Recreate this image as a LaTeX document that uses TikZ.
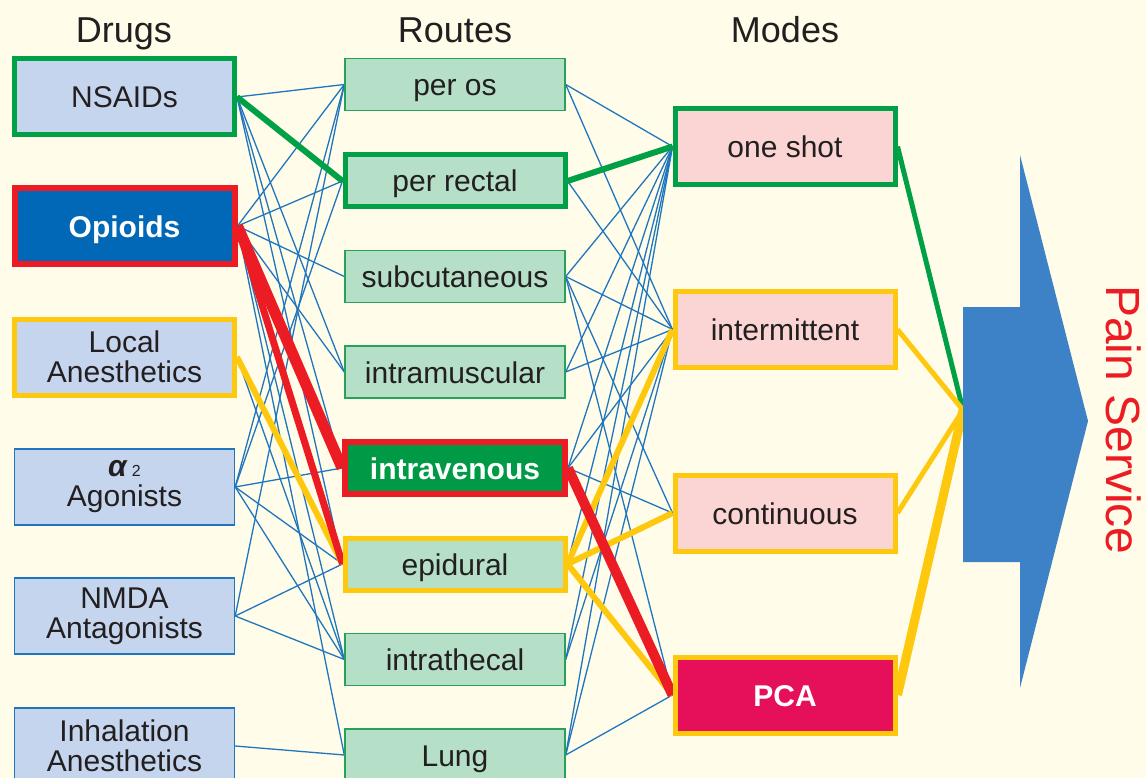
\documentclass[tikz,border=0pt]{standalone}
\usepackage{fontspec}
\setmainfont{Liberation Sans}
\usetikzlibrary{positioning}

\definecolor{paper}{HTML}{FFFCE9}
\definecolor{ink}{HTML}{231F20}
\definecolor{drugfill}{HTML}{C5D5EE}
\definecolor{routefill}{HTML}{B5DFC6}
\definecolor{modefill}{HTML}{FAD5D3}
\definecolor{opioidblue}{HTML}{0068B6}
\definecolor{ivgreen}{HTML}{009A47}
\definecolor{pcared}{HTML}{E6105A}
\definecolor{lineblue}{HTML}{1F76BF}
\definecolor{routeedge}{HTML}{27A25A}
\definecolor{apsgreen}{HTML}{00A046}
\definecolor{apsred}{HTML}{EC1C24}
\definecolor{apsyellow}{HTML}{FDC80E}
\definecolor{arrowblue}{HTML}{3D81C6}

\pgfdeclarelayer{paperlayer}
\pgfdeclarelayer{linklayer}
\pgfsetlayers{paperlayer,linklayer,main}

\tikzset{
  box/.style={draw, line width=1.4pt, minimum width=220pt, inner sep=0pt,
    text=ink, font=\fontsize{30}{30}\selectfont, text height=24pt, text depth=2pt},
  twoline/.style={align=center, text height=, text depth=},
  drug/.style={box, fill=drugfill, draw=lineblue, minimum height=76pt},
  route/.style={box, fill=routefill, draw=routeedge, minimum height=52pt},
  mode/.style={box, fill=modefill, draw=apsyellow, line width=5pt, minimum height=76pt},
  heavy/.style={line width=5pt},
  bold/.style={text=white, font=\fontsize{30}{30}\selectfont\bfseries},
  head/.style={text=ink, font=\fontsize{36}{36}\selectfont, text height=26pt, text depth=1pt},
  link/.style={draw=lineblue, line width=1.3pt},
}

\begin{document}
\begin{tikzpicture}[x=1pt,y=-1pt]
  \useasboundingbox (0,0) rectangle (1146,778);
  \begin{pgfonlayer}{paperlayer}
    \fill[paper] (0,0) rectangle (1146,778);
  \end{pgfonlayer}

  % column titles
  \node[head] (hdrugs) at (124,30) {Drugs};
  \node[head] (hroutes) at (455,30) {Routes};
  \node[head] (hmodes) at (785,30) {Modes};

  % drugs
  \node[drug, heavy, draw=apsgreen] (nsaids) at (124.5,97) {NSAIDs};
  \node[drug, heavy, line width=6pt, draw=apsred, fill=opioidblue, bold] (opioid) at (124.5,226) {Opioids};
  \node[drug, heavy, draw=apsyellow, twoline] (local) at (124.5,357) {Local\\Anesthetics};
  \node[drug, twoline] (alpha) at (124.5,487) {{\bfseries\itshape α}\,{\fontsize{16}{16}\selectfont 2}\\Agonists};
  \node[drug, twoline] (nmda) at (124.5,616) {NMDA\\Antagonists};
  \node[drug, twoline] (inhal) at (124.5,746) {Inhalation\\Anesthetics};

  % routes
  \node[route] (peros) at (455,84.5) {per os};
  \node[route, heavy, draw=apsgreen] (rectal) at (455,181) {per rectal};
  \node[route] (subcut) at (455,276.5) {subcutaneous};
  \node[route] (intramus) at (455,372) {intramuscular};
  \node[route, heavy, line width=6pt, draw=apsred, fill=ivgreen, bold] (intraven) at (455,468) {intravenous};
  \node[route, heavy, draw=apsyellow] (epidural) at (455,564) {epidural};
  \node[route] (intrathec) at (455,659.5) {intrathecal};
  \node[route] (lung) at (455,755) {Lung};

  % modes
  \node[mode, draw=apsgreen] (oneshot) at (785,146.5) {one shot};
  \node[mode] (intermit) at (785,329.5) {intermittent};
  \node[mode] (contin) at (785,513) {continuous};
  \node[mode, fill=pcared, bold] (pca) at (785,695) {PCA};

  % pain service
  \fill[arrowblue] (963,307) -- (1020,307) -- (1020,155) -- (1088,421)
    -- (1020,688) -- (1020,562) -- (963,562) -- cycle;
  \coordinate (painIn) at (963,410);
  \node[rotate=-90, text=apsred, font=\fontsize{48}{48}\selectfont] (pain) at (1124,420) {Pain Service};

  \begin{pgfonlayer}{linklayer}
    \foreach \a/\b in {nsaids/peros, nsaids/intramus, nsaids/intraven, nsaids/epidural,
        opioid/peros, opioid/rectal, opioid/subcut, opioid/intramus, opioid/intrathec, opioid/lung,
        local/intrathec,
        alpha/peros, alpha/rectal, alpha/intraven, alpha/epidural, alpha/intrathec,
        nmda/peros, nmda/epidural, nmda/intrathec,
        inhal/lung}
      \draw[link] (\a.east) -- (\b.west);
    \foreach \a/\b in {peros/oneshot, peros/intermit, rectal/intermit,
        subcut/oneshot, subcut/intermit, subcut/contin, subcut/pca,
        intramus/oneshot, intramus/intermit,
        intraven/oneshot, intraven/intermit, intraven/contin,
        epidural/oneshot, intrathec/oneshot, intrathec/intermit,
        lung/oneshot, lung/intermit, lung/pca}
      \draw[link] (\a.east) -- (\b.west);

    % highlighted paths
    \draw[apsgreen, line width=6pt] (nsaids.east) -- (rectal.west);
    \draw[apsgreen, line width=6pt] (rectal.east) -- (oneshot.west);
    \draw[apsyellow, line width=6pt] (local.east) -- (epidural.west);
    \foreach \m in {intermit, contin, pca}
      \draw[apsyellow, line width=6pt] (epidural.east) -- (\m.west);
    \draw[apsred, line width=7pt] (opioid.east) -- (epidural.west);
    \draw[apsred, line width=11pt] (opioid.east) -- (intraven.west);
    \draw[apsred, line width=10pt] (intraven.east) -- (pca.west);
    \draw[apsgreen, line width=5pt] (oneshot.east) -- (painIn);
    \draw[apsyellow, line width=5pt] (intermit.east) -- (painIn);
    \draw[apsyellow, line width=5pt] (contin.east) -- (painIn);
    \draw[apsyellow, line width=9pt] (pca.east) -- (painIn);
  \end{pgfonlayer}
\end{tikzpicture}
\end{document}
